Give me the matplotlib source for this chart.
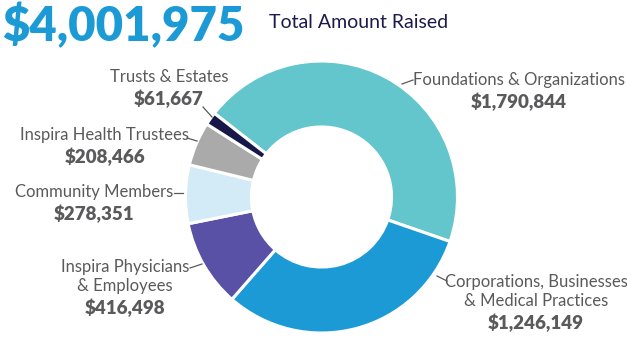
import matplotlib
matplotlib.use("Agg")
import matplotlib.pyplot as plt

categories = ["Foundations & Organizations", "Corporations, Businesses\n& Medical Practices",
              "Inspira Physicians\n& Employees", "Community Members",
              "Inspira Health Trustees", "Trusts & Estates"]
values = [1790844, 1246149, 416498, 278351, 208466, 61667]
colors = ["#63C6CC", "#1C9AD6", "#5951A6", "#D3EAF7", "#AAAAAA", "#18174A"]
total_label = "$4,001,975"
subtitle = "Total Amount Raised"

W, H = 627, 337
fig = plt.figure(figsize=(W / 100, H / 100), dpi=100)
ax = fig.add_axes([0, 0, 1, 1])

def py(y):
    return H - y

cx, cy, R = 321.5, py(197), 136
ax.pie(values, colors=colors, startangle=142, counterclock=False,
       center=(cx, cy), radius=R, frame=True,
       wedgeprops=dict(width=R * 0.485, edgecolor="white", linewidth=2.2))
ax.set_xlim(0, W)
ax.set_ylim(0, H)
ax.set_aspect("equal")
ax.axis("off")

FONT = "Lato"
gray = "#5A5A5C"

fig.text(2 / W, 1 - 41 / H, total_label, fontsize=34, fontweight="heavy",
         color="#1C9AD6", family=FONT, va="baseline", ha="left")
fig.text(269 / W, 1 - 22 / H, subtitle, fontsize=14, color="#1B1A4B",
         family=FONT, va="center", ha="left")

fmt = ["${:,}".format(v) for v in values]
# label anchor (center x, y of first line), in pixels
label_pos = [(519, 80), (536, 282), (125, 267), (94, 192), (105, 135), (169, 77)]
line_gap = 19.5
for cat, amt, (lx, ly) in zip(categories, fmt, label_pos):
    lines = cat.split("\n")
    for i, t in enumerate(lines):
        ax.text(lx, py(ly + i * line_gap), t, fontsize=12, color=gray,
                family=FONT, ha="center", va="center")
    ax.text(lx, py(ly + len(lines) * line_gap + 2), amt, fontsize=13.5,
            fontweight="heavy", color=gray, family=FONT, ha="center", va="center")

leaders = [((402, 84), (413, 80)), ((437, 276), (447, 281)), ((190, 268), (202, 264)),
           ((174, 193), (183, 193)), ((187, 138), (197, 141)), ((203, 107), (212, 117))]
for (x0, y0), (x1, y1) in leaders:
    ax.plot([x0, x1], [py(y0), py(y1)], color=gray, lw=0.9)

fig.savefig("out.png", dpi=100)
